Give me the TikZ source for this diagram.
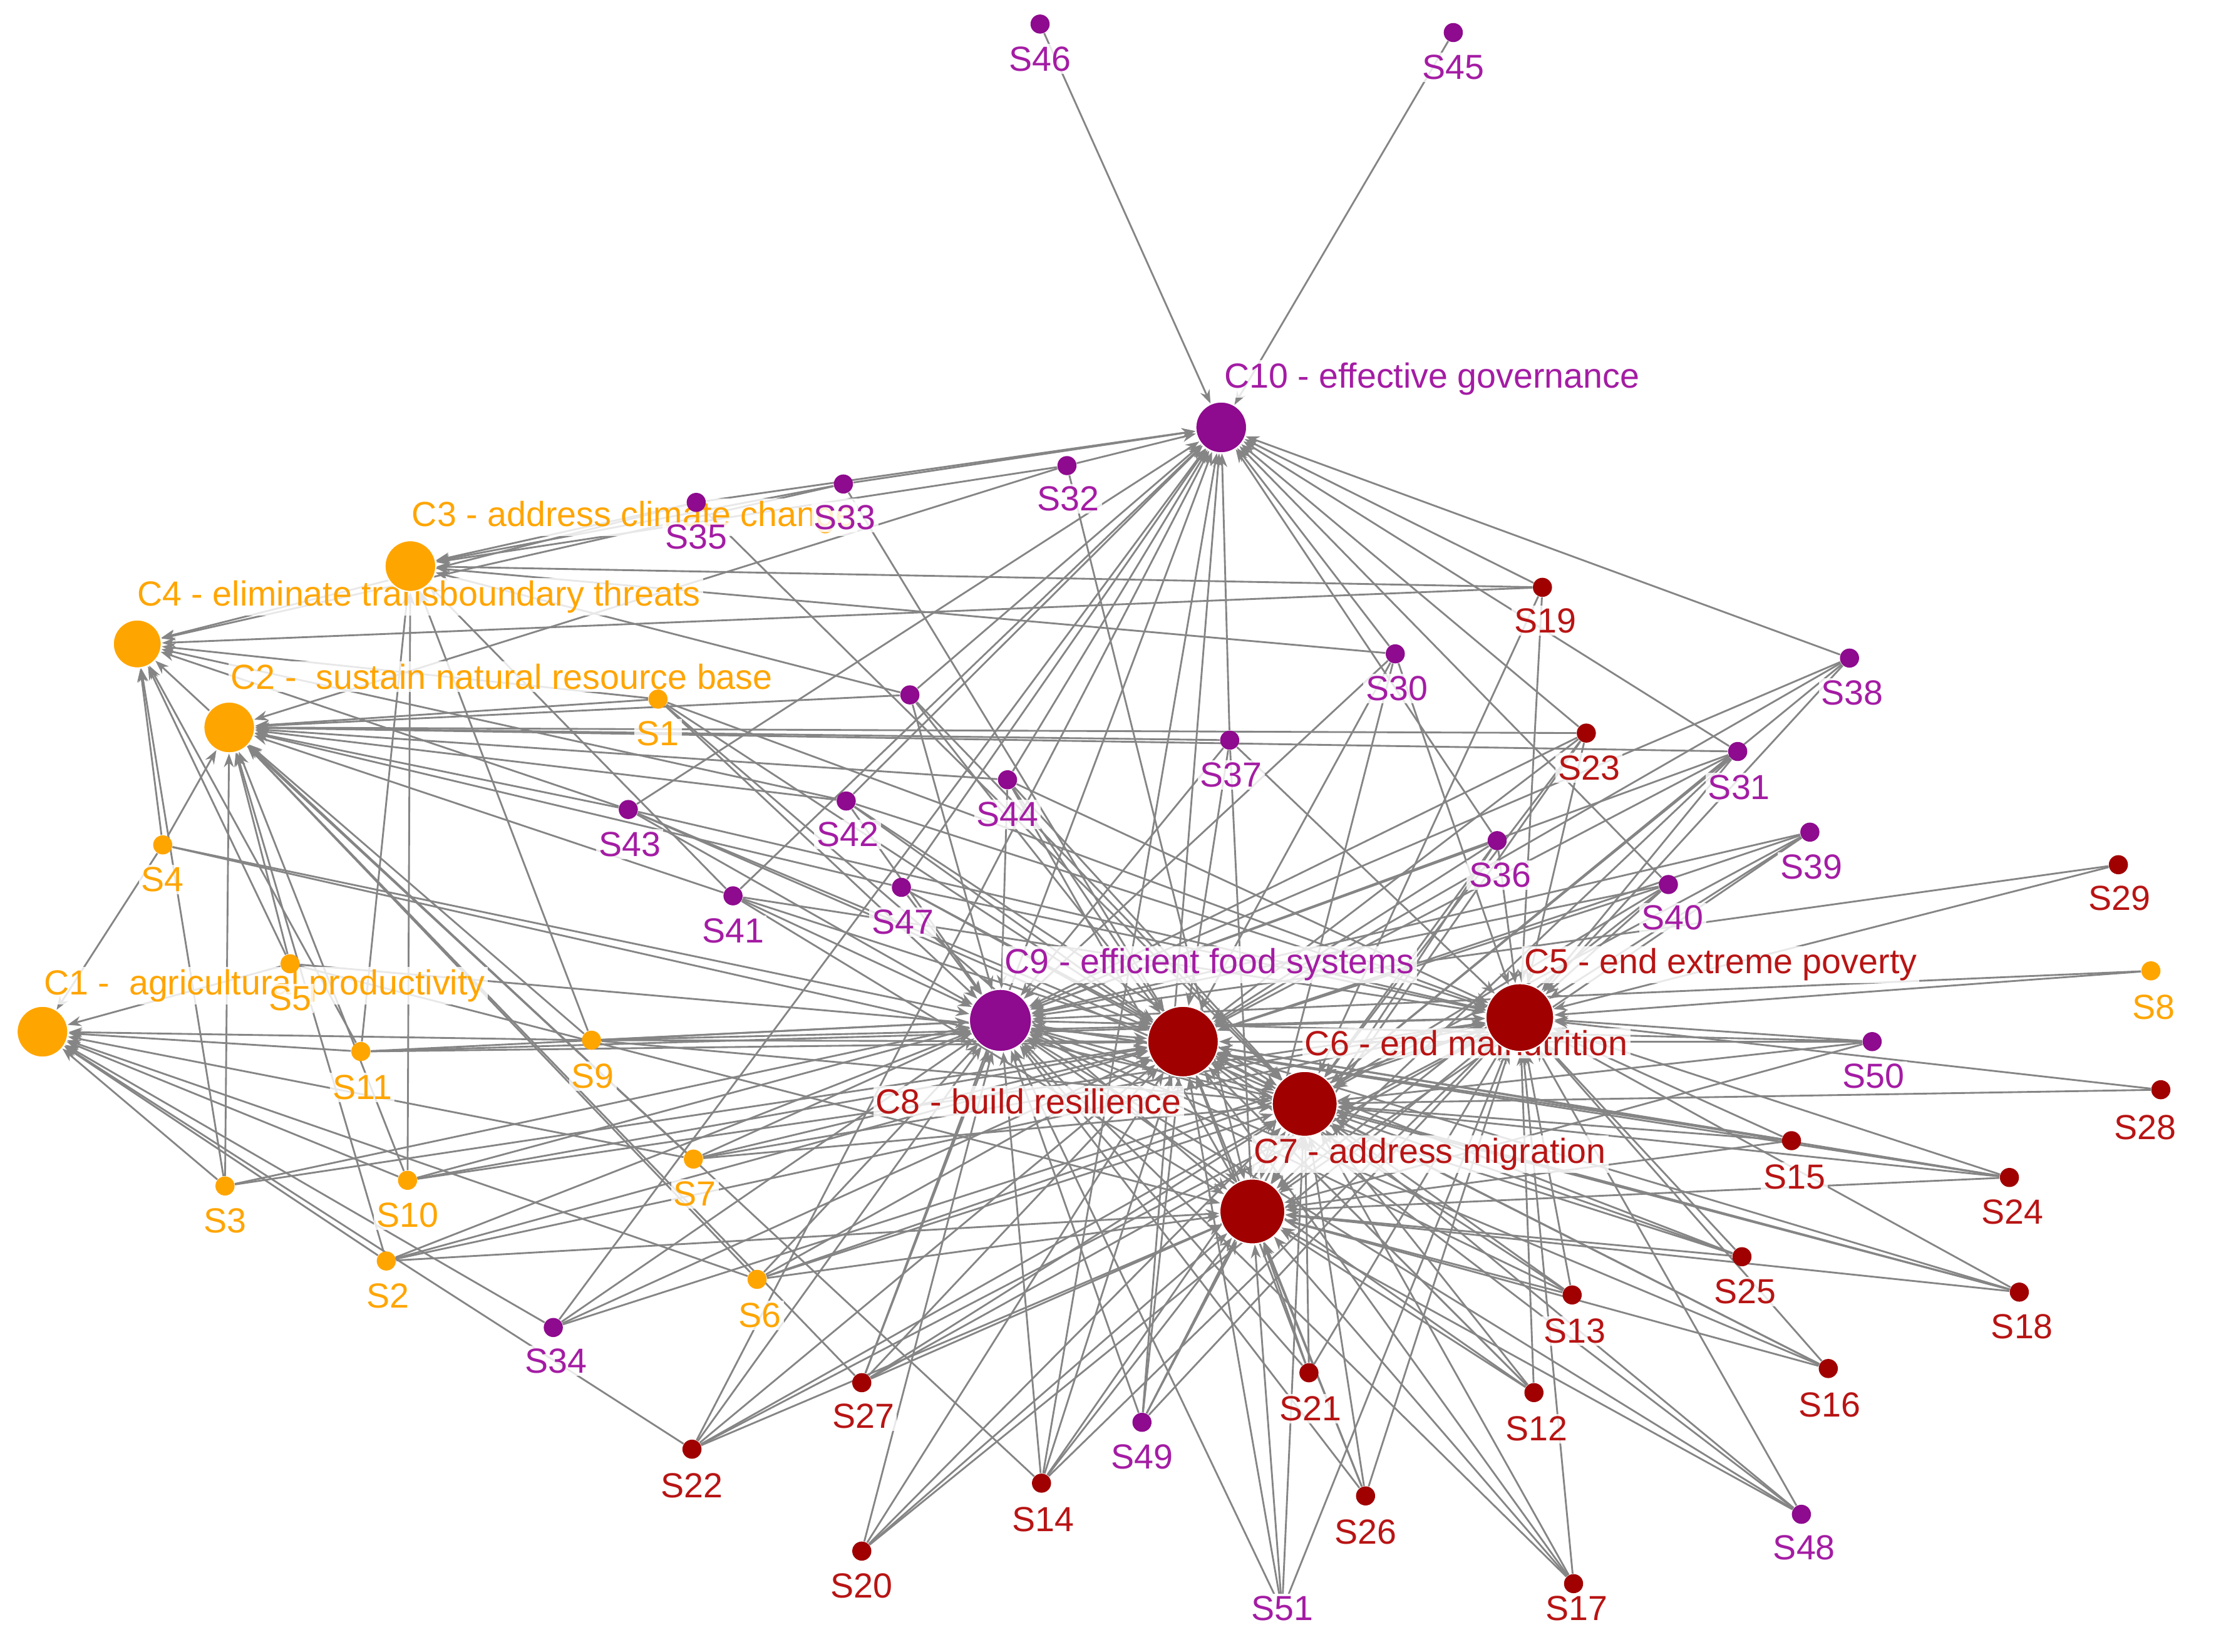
\documentclass[tikz,border=0pt]{standalone}
\usepackage{fontspec}
\setmainfont{Liberation Sans}
\usetikzlibrary{arrows.meta}
\definecolor{orng}{HTML}{FFA500}
\definecolor{purp}{HTML}{8E0A8E}
\definecolor{purptxt}{HTML}{A41CA4}
\definecolor{dred}{HTML}{A00000}
\definecolor{dredtxt}{HTML}{B81414}
\definecolor{edgegray}{HTML}{858585}
\pgfdeclarelayer{paper}
\pgfdeclarelayer{bg}
\pgfdeclarelayer{clab}
\pgfdeclarelayer{fg}
\pgfsetlayers{paper,bg,clab,main,fg}
\tikzset{
  cnode/.style={circle, fill=#1, draw=white, line width=0.5pt, inner sep=0pt},
  snode/.style={circle, fill=#1, draw=none, inner sep=0pt, minimum size=0.27cm},
  lab/.style={font=\fontsize{14}{16}\selectfont, fill=white, fill opacity=0.82, text opacity=1, inner sep=1pt},
  slab/.style={lab, anchor=base},
  clabel/.style={lab, anchor=base west},
  edge/.style={draw=edgegray, line width=0.72pt, -{Stealth[length=5.5pt,width=4pt]}}
}
\newcommand\SN[7]{%
  \node[snode=#4] (#1) at (#2,#3) {};
  \begin{pgfonlayer}{fg}\node[slab,text=#5] (#1lab) at (#6,#7+8) {#1};\end{pgfonlayer}}
\begin{document}
\begin{tikzpicture}[x=0.02cm, y=-0.02cm]
\useasboundingbox (0,0) rectangle (1566,1167);
\begin{pgfonlayer}{paper}
\fill[white] (0,0) rectangle (1566,1167);
\end{pgfonlayer}
% ---- central nodes
\node[cnode=purp, minimum size=0.72cm] (C10) at (863,302) {};
\node[cnode=purp, minimum size=0.88cm] (C9) at (707,721) {};
\node[cnode=dred, minimum size=1.0cm] (C8) at (836,736) {};
\node[cnode=dred, minimum size=0.92cm] (C6) at (922,780) {};
\node[cnode=dred, minimum size=0.92cm] (C7) at (885,856) {};
\node[cnode=dred, minimum size=0.96cm] (C5) at (1074,719) {};
\node[cnode=orng, minimum size=0.72cm] (C3) at (290,400) {};
\node[cnode=orng, minimum size=0.68cm] (C4) at (97,455) {};
\node[cnode=orng, minimum size=0.72cm] (C2) at (162,514) {};
\node[cnode=orng, minimum size=0.72cm] (C1) at (30,729) {};
% ---- central labels
\begin{pgfonlayer}{clab}
\node[clabel, text=purptxt] (C10lab) at (863,274) {C10 - effective governance};
\node[clabel, text=purptxt] (C9lab) at (708,688) {C9 - efficient food systems};
\node[lab, anchor=base east, text=dredtxt] (C8lab) at (837,787) {C8 - build resilience};
\node[clabel, text=dredtxt] (C6lab) at (920,746) {C6 - end malnutrition};
\node[clabel, text=dredtxt] (C7lab) at (884,822) {C7 - address migration};
\node[clabel, text=dredtxt] (C5lab) at (1075,688) {C5 - end extreme poverty};
\node[clabel, text=orng] (C3lab) at (289,372) {C3 - address climate change};
\node[clabel, text=orng] (C4lab) at (95,428) {C4 - eliminate transboundary threats};
\node[clabel, text=orng] (C2lab) at (161,487) {C2 - \ sustain natural resource base};
\node[clabel, text=orng] (C1lab) at (29,703) {C1 - \ agricultural productivity};
\end{pgfonlayer}
% ---- peripheral nodes
\SN{S46}{735}{17}{purp}{purptxt}{735}{42}
\SN{S45}{1027}{23}{purp}{purptxt}{1027}{48}
\SN{S33}{596}{342}{purp}{purptxt}{597}{366}
\SN{S35}{492}{355}{purp}{purptxt}{492}{380}
\SN{S32}{754}{329}{purp}{purptxt}{755}{353}
\SN{S1}{465}{494}{orng}{orng}{465}{519}
\SN{S4}{115}{597}{orng}{orng}{115}{622}
\SN{S5}{205}{681}{orng}{orng}{205}{706}
\SN{S11}{255}{743}{orng}{orng}{256}{769}
\SN{S9}{418}{735}{orng}{orng}{419}{761}
\SN{S3}{159}{838}{orng}{orng}{159}{863}
\SN{S10}{288}{834}{orng}{orng}{288}{859}
\SN{S2}{273}{891}{orng}{orng}{274}{916}
\SN{S7}{490}{819}{orng}{orng}{491}{844}
\SN{S6}{535}{904}{orng}{orng}{537}{930}
\SN{S34}{391}{938}{purp}{purptxt}{393}{962}
\SN{S43}{444}{572}{purp}{purptxt}{445}{597}
\SN{S42}{598}{566}{purp}{purptxt}{599}{590}
\SN{S41}{518}{633}{purp}{purptxt}{518}{658}
\SN{S47}{637}{627}{purp}{purptxt}{638}{652}
\SN{S44}{712}{551}{purp}{purptxt}{712}{576}
\SN{S37}{869}{523}{purp}{purptxt}{870}{548}
\SN{S30}{986}{462}{purp}{purptxt}{987}{487}
\SN{S19}{1090}{415}{dred}{dredtxt}{1092}{439}
\SN{S23}{1121}{518}{dred}{dredtxt}{1123}{543}
\SN{S38}{1307}{465}{purp}{purptxt}{1309}{490}
\SN{S31}{1228}{531}{purp}{purptxt}{1229}{557}
\SN{S39}{1279}{588}{purp}{purptxt}{1280}{613}
\SN{S36}{1058}{594}{purp}{purptxt}{1060}{619}
\SN{S40}{1179}{625}{purp}{purptxt}{1182}{649}
\SN{S29}{1497}{611}{dred}{dredtxt}{1498}{635}
\SN{S8}{1520}{686}{orng}{orng}{1522}{712}
\SN{S50}{1323}{736}{purp}{purptxt}{1324}{761}
\SN{S28}{1527}{770}{dred}{dredtxt}{1516}{797}
\SN{S15}{1266}{806}{dred}{dredtxt}{1268}{832}
\SN{S24}{1420}{832}{dred}{dredtxt}{1422}{857}
\SN{S25}{1231}{888}{dred}{dredtxt}{1233}{913}
\SN{S18}{1427}{913}{dred}{dredtxt}{1429}{938}
\SN{S13}{1111}{915}{dred}{dredtxt}{1113}{941}
\SN{S16}{1292}{967}{dred}{dredtxt}{1293}{993}
\SN{S12}{1084}{984}{dred}{dredtxt}{1086}{1010}
\SN{S21}{925}{970}{dred}{dredtxt}{926}{996}
\SN{S48}{1273}{1070}{purp}{purptxt}{1275}{1094}
\SN{S26}{965}{1057}{dred}{dredtxt}{965}{1083}
\SN{S17}{1112}{1119}{dred}{dredtxt}{1114}{1137}
\node[snode=purp, minimum size=0.2cm] (S51) at (906,1138) {};
\begin{pgfonlayer}{fg}\node[slab, text=purptxt, fill opacity=1] (S51lab) at (906,1145) {S51};\end{pgfonlayer}
\SN{S49}{807}{1005}{purp}{purptxt}{807}{1030}
\SN{S14}{736}{1048}{dred}{dredtxt}{737}{1074}
\SN{S20}{609}{1096}{dred}{dredtxt}{609}{1121}
\SN{S22}{489}{1024}{dred}{dredtxt}{489}{1050}
\SN{S27}{609}{977}{dred}{dredtxt}{610}{1001}
\node[snode=purp] (Sx) at (643,491) {};
% ---- connectors
\begin{pgfonlayer}{bg}
\foreach \s/\cs in {
  S46/{C10}, S45/{C10},
  S33/{C10,C3,C4,C8}, S35/{C10,C3,C4,C6}, S32/{C10,C3,C2,C7},
  Sx/{C3,C2,C9,C8,C6,C10}, S30/{C10,C3,C9,C8,C7,C5}, S19/{C4,C3,C10,C5,C6},
  S38/{C10,C9,C8,C5,C6}, S37/{C10,C2,C9,C8,C7,C5}, S23/{C10,C9,C8,C7,C6,C5,C2},
  S31/{C10,C9,C8,C7,C2,C6,C5}, S39/{C9,C8,C5,C7,C6}, S36/{C10,C9,C8,C7,C6,C5},
  S40/{C10,C9,C8,C6,C5,C7}, S44/{C10,C2,C5,C6,C7,C9,C8}, S42/{C10,C4,C2,C9,C5,C8,C6},
  S43/{C10,C4,C2,C6,C8,C9,C5}, S41/{C10,C2,C3,C7,C5,C9,C8}, S47/{C10,C2,C9,C6,C8,C5},
  S1/{C2,C4,C5,C7,C8,C9}, S4/{C4,C2,C1,C6,C9}, S5/{C4,C2,C1,C7,C8},
  S11/{C1,C4,C3,C5,C9,C8}, S9/{C1,C2,C3,C9,C6,C8,C5}, S3/{C1,C4,C2,C8,C9},
  S10/{C1,C3,C2,C9,C5,C8}, S2/{C1,C2,C9,C8,C7,C5}, S7/{C1,C4,C2,C9,C5,C6,C8},
  S6/{C1,C2,C9,C8,C5,C6,C7}, S34/{C1,C10,C9,C8,C5},
  S8/{C5,C9}, S29/{C5,C9}, S50/{C5,C6,C9,C8,C7}, S28/{C5,C6},
  S15/{C5,C6,C9,C8,C7}, S24/{C5,C6,C7,C9,C8}, S18/{C5,C6,C7,C8,C9},
  S25/{C5,C6,C7,C9,C8}, S16/{C5,C6,C7,C8,C9}, S13/{C5,C6,C7,C8,C9},
  S12/{C5,C6,C7,C8,C9}, S48/{C5,C6,C7,C8,C9}, S17/{C5,C6,C7,C8,C9},
  S26/{C5,C6,C7,C8,C9}, S21/{C5,C6,C7,C8,C9}, S51/{C5,C6,C7,C8,C9},
  S49/{C5,C6,C7,C8,C9,C10}, S14/{C5,C6,C7,C8,C9,C2,C10},
  S20/{C5,C6,C7,C8,C9}, S22/{C5,C6,C7,C8,C9,C1,C10}, S27/{C5,C6,C7,C8,C9,C2,C10}}{
  \foreach \c in \cs {\draw[edge] (\s) -- (\c);}
}
\end{pgfonlayer}
\end{tikzpicture}
\end{document}
